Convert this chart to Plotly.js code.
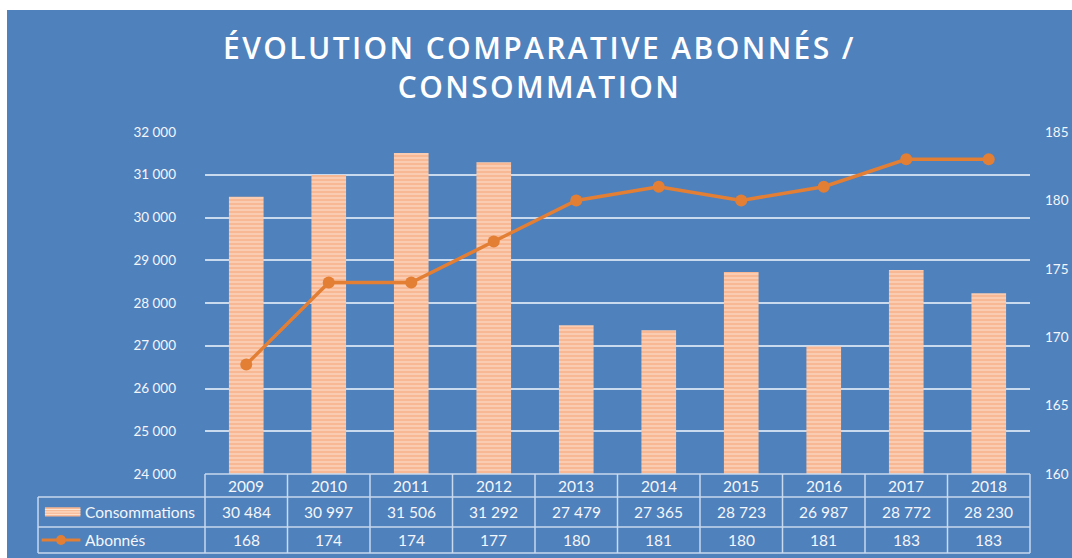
<!DOCTYPE html>
<html>
<head>
<meta charset="utf-8">
<script src="https://cdn.plot.ly/plotly-3.0.1.min.js"></script>
<style>
  html, body { margin: 0; padding: 0; background: #ffffff; width: 1072px; height: 558px; overflow: hidden; }
  #chart { position: absolute; left: 7px; top: 10px; width: 1065px; height: 548px; }
  .gtitle { letter-spacing: 2.4px; }
</style>
</head>
<body>
<div id="chart"></div>
<script>
const years = ['2009','2010','2011','2012','2013','2014','2015','2016','2017','2018'];
const consommations = [30484, 30997, 31506, 31292, 27479, 27365, 28723, 26987, 28772, 28230];
const abonnes = [168, 174, 174, 177, 180, 181, 180, 181, 183, 183];
const seriesNames = ['Consommations', 'Abonnés'];
const titleText = 'ÉVOLUTION COMPARATIVE ABONNÉS /<br>CONSOMMATION';

const BG = '#4f81bd';
const BAR = '#f8b893';
const STRIPE = '#fde6d6';
const LINE = '#e27f35';
const GRID = '#c9d9ee';
const TXT = '#f4f6fa';
const FONT = 'Lato, "Open Sans", sans-serif';
const TFS = 15.5;

function fmt(v) {
  return String(v).replace(/\B(?=(\d{3})+(?!\d))/g, '\u00a0');
}

const traces = [
  {
    type: 'bar', x: years, y: consommations, name: seriesNames[0], width: 0.42,
    marker: { color: BAR, line: { width: 0 }, pattern: { shape: '-', fillmode: 'overlay', bgcolor: BAR, fgcolor: STRIPE, size: 4, solidity: 0.45 } },
    hoverinfo: 'x+y'
  },
  {
    type: 'scatter', mode: 'lines+markers', x: years, y: abonnes, name: seriesNames[1], yaxis: 'y2',
    line: { color: LINE, width: 3.5 }, marker: { color: LINE, size: 12 }
  }
];

// table geometry (paper coords)
const rowY = [0, -0.0673, -0.155, -0.231];
const leftX = -0.2024;
const shapes = [];
const annotations = [];
const lineStyle = { color: GRID, width: 1.5 };

shapes.push({ type: 'line', xref: 'paper', yref: 'paper', x0: 0, x1: 1, y0: rowY[0], y1: rowY[0], line: lineStyle });
for (let r = 1; r < 4; r++) {
  shapes.push({ type: 'line', xref: 'paper', yref: 'paper', x0: leftX, x1: 1, y0: rowY[r], y1: rowY[r], line: lineStyle });
}
for (let i = 0; i <= years.length; i++) {
  const px = i / years.length;
  shapes.push({ type: 'line', xref: 'paper', yref: 'paper', x0: px, x1: px, y0: rowY[0], y1: rowY[3], line: lineStyle });
}
shapes.push({ type: 'line', xref: 'paper', yref: 'paper', x0: leftX, x1: leftX, y0: rowY[1], y1: rowY[3], line: lineStyle });

function cell(x, y, text, anchor) {
  annotations.push({ xref: 'paper', yref: 'paper', x: x, y: y, text: text, showarrow: false,
    xanchor: anchor || 'center', yanchor: 'middle', font: { size: TFS, color: TXT, family: FONT } });
}
years.forEach((yr, i) => {
  const cx = (i + 0.5) / years.length;
  cell(cx, (rowY[0] + rowY[1]) / 2, yr);
  cell(cx, (rowY[1] + rowY[2]) / 2, fmt(consommations[i]));
  cell(cx, (rowY[2] + rowY[3]) / 2, String(abonnes[i]));
});

cell(-0.1475, (rowY[1] + rowY[2]) / 2, seriesNames[0], 'left');
cell(-0.1475, (rowY[2] + rowY[3]) / 2, seriesNames[1], 'left');
// bar legend icon
shapes.push({ type: 'rect', xref: 'paper', yref: 'paper', x0: -0.194, x1: -0.151, y0: -0.1245, y1: -0.0975, fillcolor: BAR, line: { width: 0 } });
[-0.104, -0.111, -0.118].forEach(y => {
  shapes.push({ type: 'line', xref: 'paper', yref: 'paper', x0: -0.194, x1: -0.151, y0: y, y1: y, line: { color: STRIPE, width: 1 } });
});
// line legend icon
shapes.push({ type: 'line', xref: 'paper', yref: 'paper', x0: -0.198, x1: -0.151, y0: -0.193, y1: -0.193, line: { color: LINE, width: 3 } });
shapes.push({ type: 'circle', xref: 'paper', yref: 'paper', x0: -0.1805, x1: -0.1685, y0: -0.2075, y1: -0.1785, fillcolor: LINE, line: { width: 0 } });

const layout = {
  width: 1065, height: 548,
  paper_bgcolor: BG, plot_bgcolor: BG,
  margin: { l: 198, r: 42, t: 122, b: 84 },
  separators: ', ',
  showlegend: false,
  title: {
    text: titleText, x: 0.5, xanchor: 'center', y: 0.91, yref: 'container', yanchor: 'top',
    font: { family: '"Open Sans", sans-serif', size: 30, color: '#ffffff', weight: 600 }
  },
  xaxis: { type: 'category', range: [-0.5, 9.5], showticklabels: false, showgrid: false, zeroline: false, showline: false, ticks: '' },
  yaxis: {
    range: [24000, 32000], dtick: 1000, tickformat: ',d', showgrid: true, gridcolor: GRID, gridwidth: 2,
    zeroline: false, showline: false, ticks: '', ticklabelstandoff: 28,
    tickfont: { size: 13.5, color: TXT, family: FONT }
  },
  yaxis2: {
    overlaying: 'y', side: 'right', range: [160, 185], dtick: 5, showgrid: false, zeroline: false, showline: false,
    ticks: '', ticklabelstandoff: 14, tickfont: { size: 13.5, color: TXT, family: FONT }
  },
  shapes: shapes,
  annotations: annotations
};

Plotly.newPlot('chart', traces, layout, { displayModeBar: false, staticPlot: true });
</script>
</body>
</html>
